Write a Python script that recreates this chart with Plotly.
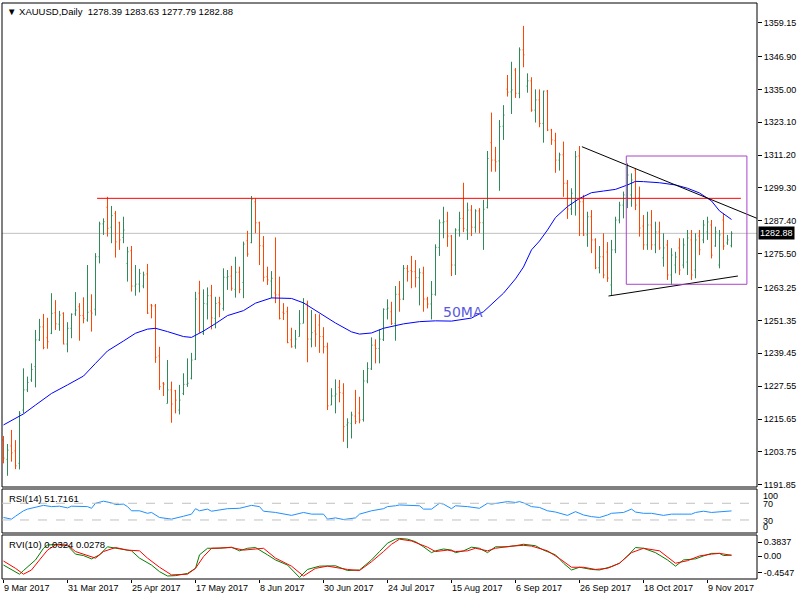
import plotly.graph_objects as go

# ---------------- data ----------------
opens = [1208.05,1201.05,1205.9,1204.1,1199.6,1218.9,1226.2,1229.8,1234.6,1244.3,
         1249.0,1245.1,1246.7,1254.1,1250.0,1253.9,1242.8,1248.5,1253.7,1256.3,
         1253.1,1251.5,1254.8,1255.4,1274.4,1286.3,1292.3,1285.1,1290.1,1286.7,
         1281.4,1272.0,1276.6,1263.8,1264.5,1263.8,1268.2,1256.9,1256.6,1238.5,
         1228.6,1221.3,1226.2,1225.9,1218.9,1224.9,1228.2,1230.4,1237.3,1261.2,
         1246.7,1257.3,1260.3,1252.1,1257.8,1255.7,1266.8,1267.4,1262.6,1268.8,
         1265.1,1280.2,1279.5,1294.3,1286.7,1278.3,1267.2,1265.6,1261.3,1260.6,
         1254.3,1254.5,1244.3,1242.1,1245.5,1250.3,1257.5,1244.6,1247.5,1249.7,
         1245.5,1241.8,1220.7,1224.0,1227.1,1225.0,1213.5,1214.1,1216.7,1217.8,
         1215.5,1229.4,1233.8,1242.4,1241.2,1244.5,1255.4,1254.5,1250.3,1260.8,
         1259.1,1270.2,1269.4,1269.0,1266.8,1268.5,1259.1,1257.3,1260.8,1277.8,
         1286.7,1287.3,1281.9,1271.4,1284.1,1288.3,1284.1,1291.3,1285.1,1291.0,
         1286.7,1292.2,1315.7,1309.4,1309.1,1321.7,1335.1,1334.1,1342.0,1333.6,
         1349.3,1336.2,1338.1,1327.5,1331.2,1322.7,1334.4,1320.3,1316.4,1309.4,
         1311.3,1301.0,1291.7,1295.0,1310.9,1294.3,1282.3,1288.9,1280.5,1270.4,
         1274.4,1276.1,1264.2,1276.9,1287.7,1293.1,1295.7,1296.8,1305.8,1295.7,
         1285.5,1278.7,1285.9,1278.7,1283.4,1274.0,1278.7,1267.8,1271.4,1277.6,
         1271.4,1272.5,1280.5,1269.6,1281.9,1280.5,1283.4,1285.9,1278.3,1271.4,
         1287.7,1279.4,1278.39]
highs = [1209.5,1206.6,1211.7,1208.0,1218.5,1234.0,1231.0,1235.8,1247.9,1251.9,
         1253.7,1252.3,1261.2,1258.7,1254.8,1254.3,1250.7,1253.9,1261.6,1257.6,
         1259.7,1271.4,1260.8,1275.7,1287.1,1288.3,1296.1,1292.8,1291.0,1287.1,
         1288.9,1278.0,1278.3,1271.4,1270.0,1269.0,1271.8,1257.3,1257.3,1241.8,
         1229.0,1237.0,1229.2,1226.2,1228.0,1232.2,1237.6,1239.6,1261.7,1265.7,
         1262.6,1263.3,1264.2,1259.9,1259.9,1270.2,1269.6,1271.1,1274.4,1270.8,
         1279.9,1283.8,1296.4,1295.6,1287.1,1281.9,1270.8,1269.2,1281.4,1267.2,
         1257.6,1256.3,1248.7,1247.9,1255.1,1259.4,1258.5,1255.1,1253.7,1253.6,
         1248.9,1243.3,1226.8,1230.0,1229.8,1228.6,1215.9,1218.3,1226.2,1223.7,
         1233.4,1236.2,1245.2,1244.5,1248.1,1255.7,1259.0,1258.1,1263.8,1265.6,
         1271.4,1271.4,1274.7,1273.2,1270.2,1270.8,1259.9,1265.6,1278.9,1287.9,
         1292.5,1290.7,1282.3,1284.7,1290.7,1301.2,1294.0,1293.1,1291.6,1292.0,
         1295.0,1312.7,1326.6,1314.2,1323.9,1329.3,1340.2,1345.0,1342.7,1350.2,
         1358.0,1340.8,1339.4,1335.0,1335.0,1334.5,1334.8,1320.7,1319.3,1312.1,
         1316.1,1302.2,1299.2,1312.7,1314.5,1296.8,1290.7,1291.3,1281.1,1278.3,
         1282.9,1279.7,1280.5,1288.9,1294.3,1298.0,1308.2,1304.6,1306.4,1299.8,
         1289.5,1290.7,1291.3,1287.1,1287.1,1282.9,1280.5,1277.5,1276.2,1281.1,
         1281.1,1284.1,1284.1,1282.9,1284.1,1287.7,1288.9,1287.7,1285.3,1284.1,
         1290.1,1282.3,1283.63]
lows = [1199.6,1195.1,1200.2,1197.5,1197.4,1217.7,1225.4,1229.1,1227.1,1243.9,
        1240.9,1241.1,1246.4,1247.9,1247.6,1242.7,1239.8,1244.9,1253.0,1244.0,
        1250.3,1250.9,1247.3,1253.1,1272.0,1282.3,1281.7,1279.3,1274.1,1276.9,
        1279.3,1265.4,1261.8,1260.3,1261.5,1263.0,1253.7,1252.1,1236.0,1226.2,
        1224.0,1221.3,1214.3,1217.7,1217.3,1224.3,1227.3,1230.0,1237.0,1246.9,
        1246.1,1251.7,1248.1,1248.5,1252.5,1254.9,1262.4,1262.1,1259.6,1261.2,
        1259.4,1274.4,1279.3,1282.9,1271.4,1265.4,1264.2,1259.4,1257.6,1251.7,
        1251.5,1243.1,1241.5,1241.1,1245.5,1250.3,1236.2,1241.6,1241.8,1239.6,
        1239.4,1218.9,1220.7,1217.7,1221.7,1207.4,1205.1,1208.6,1213.8,1214.1,
        1214.7,1228.6,1233.4,1235.8,1235.8,1243.9,1251.7,1249.7,1244.0,1254.5,
        1258.7,1265.4,1263.0,1263.3,1256.8,1254.5,1255.7,1251.7,1260.3,1274.7,
        1281.1,1278.0,1267.4,1267.8,1281.7,1283.3,1280.5,1281.9,1283.1,1282.9,
        1276.9,1291.9,1305.2,1305.2,1298.3,1316.7,1332.4,1326.1,1331.9,1331.8,
        1343.0,1333.8,1326.9,1323.0,1321.3,1315.7,1319.9,1314.9,1304.8,1305.6,
        1296.1,1288.1,1289.5,1289.3,1281.9,1281.9,1278.0,1275.7,1269.9,1268.4,
        1266.6,1265.3,1260.2,1275.7,1286.5,1288.3,1292.0,1292.5,1291.3,1281.7,
        1276.9,1276.9,1276.9,1275.7,1276.9,1270.8,1266.0,1264.2,1268.4,1267.8,
        1270.2,1267.8,1266.0,1266.6,1275.0,1279.3,1280.5,1273.8,1278.0,1270.2,
        1276.9,1278.7,1277.79]
closes = [1201.5,1204.4,1203.4,1198.7,1217.7,1226.2,1228.9,1233.6,1244.3,1249.0,
          1241.5,1243.6,1253.9,1250.1,1253.3,1242.8,1248.5,1253.6,1255.1,1253.1,
          1252.1,1254.3,1254.0,1274.4,1286.3,1287.1,1284.7,1289.3,1279.8,1280.5,
          1284.1,1276.2,1263.8,1264.5,1268.4,1267.8,1254.0,1256.6,1238.0,1227.4,
          1228.3,1226.2,1221.1,1222.5,1222.5,1228.2,1228.6,1237.0,1259.1,1246.9,
          1257.5,1260.3,1252.3,1257.5,1257.3,1267.0,1267.2,1263.0,1268.8,1262.6,
          1279.0,1275.4,1295.2,1286.7,1278.4,1267.0,1266.0,1266.6,1260.6,1252.1,
          1253.9,1243.3,1241.8,1244.6,1250.1,1257.5,1244.6,1246.9,1246.4,1245.5,
          1241.8,1220.4,1224.0,1224.7,1225.2,1212.9,1214.3,1217.1,1214.7,1215.3,
          1229.4,1233.9,1242.4,1241.2,1244.6,1255.4,1255.8,1250.3,1260.8,1259.0,
          1270.2,1269.0,1269.0,1266.8,1268.6,1259.1,1257.3,1260.8,1277.8,1286.7,
          1287.1,1281.9,1271.4,1284.1,1288.3,1284.7,1291.3,1285.1,1291.0,1286.7,
          1291.6,1310.0,1309.4,1308.8,1321.5,1325.7,1334.0,1334.8,1333.6,1349.3,
          1347.5,1338.1,1327.5,1331.2,1322.7,1334.4,1320.3,1316.7,1309.4,1311.3,
          1301.0,1291.7,1297.4,1310.6,1294.3,1282.3,1288.9,1280.5,1270.4,1274.4,
          1267.8,1266.7,1276.9,1287.7,1293.1,1296.8,1304.0,1302.2,1293.1,1284.8,
          1278.7,1285.9,1278.7,1283.4,1277.6,1277.6,1267.8,1275.0,1274.3,1269.6,
          1278.7,1281.2,1267.8,1280.5,1276.9,1285.9,1287.0,1275.0,1283.4,1282.3,
          1278.3,1280.5,1282.88]
bar_index = list(range(len(closes)))

date_tick_index = [0, 16, 32, 48, 64, 80, 96, 112, 128, 144, 160, 176]
date_tick_labels = ["9 Mar 2017", "31 Mar 2017", "25 Apr 2017", "17 May 2017", "8 Jun 2017",
                    "30 Jun 2017", "24 Jul 2017", "15 Aug 2017", "6 Sep 2017", "26 Sep 2017",
                    "18 Oct 2017", "9 Nov 2017"]
price_ticks = [1359.15, 1346.90, 1335.00, 1323.10, 1311.20, 1299.30, 1287.40, 1275.50,
               1263.25, 1251.35, 1239.45, 1227.55, 1215.65, 1203.75, 1191.85]

ma_x = [0,5,8,12,16,20,23,26,30,33,36,38,41,45,47,50,53,56,60,63,67,72,75,79,83,87,89,92,95,
        100,104,108,112,117,120,125,128,130,132,134,136,138,141,144,147,150,153,156,158,160,
        164,168,171,174,177,179,182]
ma_y = [1213.5,1217.5,1220.7,1224.9,1228.0,1231.2,1235.8,1240.3,1243.9,1246.7,1248.2,1248.5,
        1247.3,1245.5,1245.2,1247.5,1250.2,1253.1,1254.9,1257.6,1259.5,1259.3,1257.7,1254.0,
        1250.4,1247.2,1246.4,1246.8,1248.5,1250.1,1250.9,1251.2,1251.1,1252.2,1254.5,1261.2,
        1266.4,1270.7,1276.9,1280.1,1284.1,1288.6,1292.6,1295.5,1297.6,1298.2,1298.8,1300.4,
        1301.7,1301.6,1301.2,1300.4,1299.2,1297.5,1294.6,1291.0,1287.9]

rsi_x = [0,2,3,5,6,8,10,12,14,16,17,21,22,23,25,27,28,30,31,32,34,36,37,39,41,42,45,47,48,49,
         51,52,56,59,62,64,65,68,72,75,77,80,81,83,85,88,89,92,95,96,98,99,104,105,107,109,110,
         112,113,116,119,121,122,126,128,129,130,132,134,136,138,141,143,145,147,149,151,152,
         155,157,158,160,162,165,167,172,173,175,177,179,182]
rsi_y = [36,32,39,52,56,60,65,62,63,59,63,62,58,70,75,71,67,68,62,52,52,46,48,36,33,32,39,44,
         57,52,56,51,57,58,65,62,51,48,41,48,44,44,32,35,31,35,44,52,57,62,64,66,64,56,56,70,
         68,57,64,62,58,70,68,74,72,74,71,62,60,52,49,41,50,42,38,36,42,46,48,56,49,46,46,41,
         44,44,48,51,48,49,51.7161]

rvi_x = [0,2,4,5,8,10,11,14,16,18,20,22,24,26,28,30,32,34,37,39,41,43,46,48,49,51,54,57,59,
         61,63,66,68,71,74,76,79,83,86,89,92,94,96,98,99,101,103,105,107,108,110,112,113,115,
         117,119,121,123,126,128,130,133,135,138,140,142,144,147,149,152,154,156,158,160,163,
         166,168,170,173,175,177,179,180,182]
rvi_main = [-0.24,-0.375,-0.49,-0.39,-0.10,0.22,0.31,0.33,0.29,0.06,0.02,-0.07,0.04,0.26,0.22,
            0.17,0.15,-0.05,-0.24,-0.42,-0.54,-0.53,-0.47,-0.33,0.04,0.22,0.22,0.25,0.15,0.22,
            0.24,0.04,-0.10,-0.24,-0.58,-0.36,-0.27,-0.26,-0.39,-0.375,-0.10,0.13,0.36,0.47,
            0.49,0.47,0.40,0.26,0.10,0.15,0.20,0.17,0.10,0.15,0.25,0.22,0.10,0.26,0.26,0.29,
            0.33,0.29,0.17,0.04,-0.19,-0.375,-0.30,-0.36,-0.375,-0.28,-0.19,0.01,0.24,0.22,
            0.10,-0.10,-0.27,-0.10,-0.07,0.01,0.08,0.08,0.02,0.0324]
rvi_sig_x = [0,3,5,7,9,11,13,16,18,21,23,25,28,31,34,36,39,42,46,48,50,52,57,60,62,65,68,72,
             75,78,81,86,89,92,95,97,99,102,106,108,111,113,116,118,121,123,127,130,132,136,
             139,142,145,148,151,154,157,160,164,168,171,174,177,179,182]
rvi_signal = [-0.13,-0.33,-0.49,-0.375,-0.10,0.17,0.31,0.31,0.13,0.01,-0.05,0.13,0.24,0.17,
              0.15,-0.05,-0.30,-0.51,-0.49,-0.33,-0.01,0.22,0.24,0.17,0.19,0.22,-0.05,-0.27,
              -0.54,-0.33,-0.27,-0.36,-0.39,-0.15,0.13,0.33,0.47,0.42,0.25,0.13,0.17,0.13,0.15,
              0.22,0.15,0.22,0.28,0.30,0.28,0.15,-0.06,-0.30,-0.30,-0.36,-0.33,-0.19,0.10,0.22,
              0.15,-0.19,-0.12,0.01,0.06,0.08,0.0278]
rvi_ticks = [0.3837, 0.0, -0.4547]
rvi_tick_labels = ["0.3837", "0.00", "-0.4547"]

resistance_level = 1295.55
upper_trend = ([144.6, 188.3], [1314.25, 1288.35])
lower_trend = ([151.25, 183.6], [1260.19, 1267.43])
box_x = [155.7, 185.85]
box_y = [1264.43, 1310.88]
ma_label_pos = (114.9, 1254.5)

last_open, last_high, last_low, last_close = opens[-1], highs[-1], lows[-1], closes[-1]
rsi_last = rsi_y[-1]

# ---------------- figure ----------------
FONT = "Liberation Sans"
fig = go.Figure()

fig.add_trace(go.Ohlc(
    x=bar_index, open=opens, high=highs, low=lows, close=closes,
    increasing=dict(line=dict(color="#2E8B57", width=1)),
    decreasing=dict(line=dict(color="#FF4500", width=1)),
    tickwidth=0.25, hoverinfo="skip", showlegend=False, xaxis="x", yaxis="y"))

fig.add_trace(go.Scatter(x=ma_x, y=ma_y, mode="lines", line=dict(color="#0000FF", width=1),
                         hoverinfo="skip", showlegend=False, xaxis="x", yaxis="y"))

fig.add_trace(go.Scatter(x=rsi_x, y=rsi_y, mode="lines", line=dict(color="#1E90FF", width=1),
                         hoverinfo="skip", showlegend=False, xaxis="x", yaxis="y2"))

fig.add_trace(go.Scatter(x=rvi_x, y=rvi_main, mode="lines", line=dict(color="#008000", width=1),
                         hoverinfo="skip", showlegend=False, xaxis="x", yaxis="y3"))
fig.add_trace(go.Scatter(x=rvi_sig_x, y=rvi_signal, mode="lines", line=dict(color="#FF0000", width=1),
                         hoverinfo="skip", showlegend=False, xaxis="x", yaxis="y3"))

main_dom = [0.15972, 1.0]
rsi_dom = [0.07986, 0.15625]
rvi_dom = [0.0, 0.07639]
tickfont = dict(family=FONT, size=9, color="black")

fig.update_layout(
    width=800, height=600,
    margin=dict(l=2, r=43, t=3, b=21),
    paper_bgcolor="white", plot_bgcolor="white",
    hovermode=False, showlegend=False,
    xaxis=dict(domain=[0, 1], anchor="y3", range=[-0.375, 188.375],
               tickvals=date_tick_index, ticktext=date_tick_labels,
               ticks="outside", ticklen=3, tickcolor="black",
               ticklabelposition="outside right",
               showgrid=False, zeroline=False, showline=False,
               rangeslider=dict(visible=False), tickfont=tickfont),
    yaxis=dict(domain=main_dom, anchor="x", side="right", range=[1191.03, 1366.28],
               tickvals=price_ticks, ticktext=["%.2f" % v for v in price_ticks],
               ticks="outside", ticklen=4, tickcolor="black",
               showgrid=False, zeroline=False, showline=False, tickfont=tickfont),
    yaxis2=dict(domain=rsi_dom, anchor="x", side="right", range=[-1.2, 104.2],
                showticklabels=False, ticks="", showgrid=False, zeroline=False),
    yaxis3=dict(domain=rvi_dom, anchor="x", side="right", range=[-0.622, 0.5836],
                tickvals=rvi_ticks, ticktext=rvi_tick_labels,
                ticks="outside", ticklen=4, tickcolor="black",
                showgrid=False, zeroline=False, showline=False, tickfont=tickfont),
)

shapes = []
for dom in (main_dom, rsi_dom, rvi_dom):
    shapes.append(dict(type="rect", xref="paper", yref="paper", x0=0, x1=1, y0=dom[0], y1=dom[1],
                       line=dict(color="black", width=1), fillcolor="rgba(0,0,0,0)", layer="above"))
shapes.append(dict(type="line", xref="paper", yref="y", x0=0, x1=1, y0=last_close, y1=last_close,
                   line=dict(color="#C0C0C0", width=1), layer="below"))
shapes.append(dict(type="line", xref="x", yref="y", x0=23.4, x1=184.35,
                   y0=resistance_level, y1=resistance_level, line=dict(color="#FF0000", width=1)))
shapes.append(dict(type="line", xref="x", yref="y", x0=upper_trend[0][0], x1=upper_trend[0][1],
                   y0=upper_trend[1][0], y1=upper_trend[1][1], line=dict(color="black", width=1)))
shapes.append(dict(type="line", xref="x", yref="y", x0=lower_trend[0][0], x1=lower_trend[0][1],
                   y0=lower_trend[1][0], y1=lower_trend[1][1], line=dict(color="black", width=1)))
shapes.append(dict(type="rect", xref="x", yref="y", x0=box_x[0], x1=box_x[1], y0=box_y[0], y1=box_y[1],
                   line=dict(color="#AA44CC", width=1), fillcolor="rgba(0,0,0,0)"))
for lvl in (70, 30):
    shapes.append(dict(type="line", xref="paper", yref="y2", x0=0, x1=1, y0=lvl, y1=lvl,
                       line=dict(color="#C0C0C0", width=1, dash="dash")))
fig.update_layout(shapes=shapes)

nb = "\u00a0"
annotations = [
    dict(xref="paper", yref="paper", x=0.004, y=0.9985, xanchor="left", yanchor="top",
         text="\u25BC" + nb + "XAUUSD,Daily" + nb * 2 + "%.2f %.2f %.2f %.2f" % (last_open, last_high, last_low, last_close),
         showarrow=False, font=dict(family=FONT, size=9.5, color="black")),
    dict(xref="paper", yref="paper", x=0.006, y=rsi_dom[1] - 0.004, xanchor="left", yanchor="top",
         text="RSI(14) %.4f" % rsi_last, showarrow=False, font=dict(family=FONT, size=9.5, color="black")),
    dict(xref="paper", yref="paper", x=0.006, y=rvi_dom[1] - 0.004, xanchor="left", yanchor="top",
         text="RVI(10) %.4f %.4f" % (rvi_main[-1], rvi_signal[-1]), showarrow=False,
         font=dict(family=FONT, size=9.5, color="black")),
    dict(xref="x", yref="y", x=ma_label_pos[0], y=ma_label_pos[1], text="50MA", showarrow=False,
         font=dict(family="DejaVu Sans", size=14, color="#5A5AE0")),
    dict(xref="paper", yref="y", x=1, y=last_close, xanchor="left", yanchor="middle", xshift=1,
         text="%.2f" % last_close, showarrow=False, bgcolor="black", borderpad=1,
         font=dict(family=FONT, size=9, color="white")),
]
for lab, v in (("100", 87.4), ("70", 68.3), ("30", 27.5), ("0", 13.2)):
    annotations.append(dict(xref="paper", yref="y2", x=1, y=v, xanchor="left", yanchor="middle",
                            xshift=4, text=lab, showarrow=False, font=tickfont))
fig.update_layout(annotations=annotations)

fig.write_html("out.html", config={"displayModeBar": False},
               post_script="document.body.style.margin='0px';document.body.style.overflow='hidden';")
